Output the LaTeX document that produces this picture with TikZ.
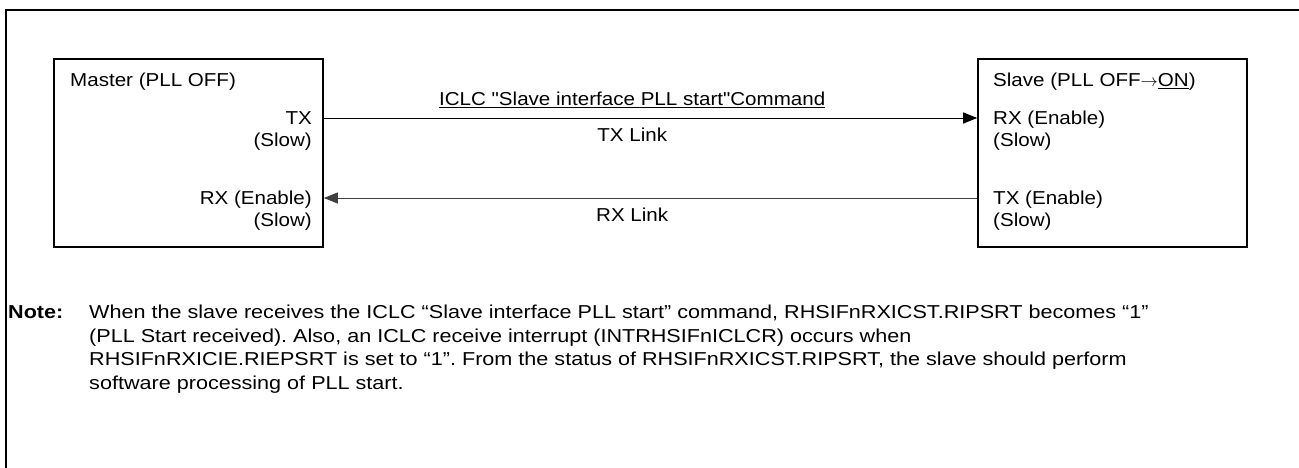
\documentclass[tikz,border=0pt]{standalone}
\usepackage{fontspec}
\setmainfont{Liberation Sans}[Ligatures=TeXOff, FakeStretch=1.1]
\newfontfamily\notefont{Liberation Sans}[Ligatures=TeXOff, FakeStretch=1.155]
\usetikzlibrary{positioning, arrows.meta, calc}
\frenchspacing

\begin{document}
\begin{tikzpicture}[x=1pt, y=-1pt, font=\fontsize{18.7}{22}\selectfont,
    unitbox/.style={draw, line width=1.6pt, minimum width=269pt, minimum height=188pt, inner sep=0pt},
    port/.style={inner sep=0pt, align=left},
    linklabel/.style={anchor=base, inner sep=0pt},
    link/.style={line width=0.9pt, -{Triangle[length=14pt, width=11pt]}}]
  \useasboundingbox (0,0) rectangle (1299,468);
  \draw[line width=1.6pt] (1310,10) -| (6,480);
  % the two interface units
  \node[unitbox] (master) at (188.5,153) {};
  \node[unitbox] (slave) at (1112.5,153) {};
  \node[anchor=base west, inner sep=0pt] (mastername) at (70,86.5) {Master (PLL OFF)};
  \node[anchor=base west, inner sep=0pt] (slavename) at (993,86.5) {Slave (PLL OFF$\rightarrow$\underline{ON})};
  % base anchor of a two-line node sits on its last line
  \node[port, anchor=base east, align=right] (mastertx) at (312,146.5) {TX\\(Slow)};
  \node[port, anchor=base east, align=right] (masterrx) at (312,226.5) {RX (Enable)\\(Slow)};
  \node[port, anchor=base west] (slaverx) at (993,146.5) {RX (Enable)\\(Slow)};
  \node[port, anchor=base west] (slavetx) at (993,226.5) {TX (Enable)\\(Slow)};
  % links
  \coordinate (txlevel) at (0,118);
  \coordinate (rxlevel) at (0,198);
  \draw[link] (master.east |- txlevel) --
    node[linklabel, pos=0.472, yshift=12pt]{\underline{ICLC "Slave interface PLL start"Command}}
    node[linklabel, pos=0.472, yshift=-23.5pt]{TX Link} (slave.west |- txlevel);
  \draw[link, draw=black!75] (slave.west |- rxlevel) --
    node[linklabel, pos=0.528, yshift=-23.5pt]{RX Link} (master.east |- rxlevel);
  % note
  \node[anchor=base west, inner sep=0pt, font=\notefont\fontsize{18.7}{23.5}\bfseries] (notehead) at (8,318.5) {Note:};
  \node[anchor=base west, inner sep=0pt, align=left, font=\notefont\fontsize{18.7}{23.5}\selectfont] (notetext) at (89,389)
    {When the slave receives the ICLC “Slave interface PLL start” command, RHSIFnRXICST.RIPSRT becomes “1”\\
     (PLL Start received). Also, an ICLC receive interrupt (INTRHSIFnICLCR) occurs when\\
     RHSIFnRXICIE.RIEPSRT is set to “1”. From the status of RHSIFnRXICST.RIPSRT, the slave should perform\\
     software processing of PLL start.};
\end{tikzpicture}
\end{document}
